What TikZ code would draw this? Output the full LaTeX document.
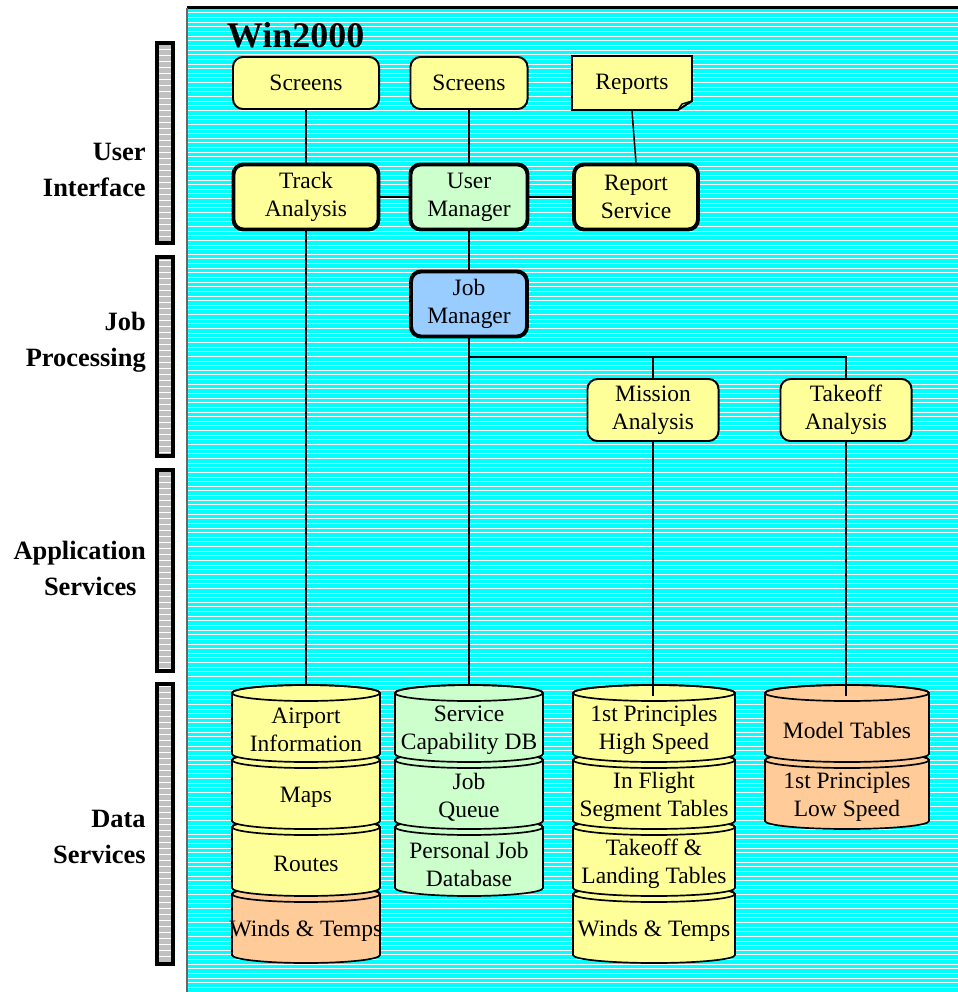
\documentclass[tikz,border=0pt]{standalone}
\usepackage{fontspec}
\setmainfont{Liberation Serif}

\definecolor{dbyellow}{HTML}{FFFF99}
\definecolor{dbgreen}{HTML}{CCFFCC}
\definecolor{dborange}{HTML}{FFCC99}
\definecolor{jmblue}{HTML}{99CCFF}
\definecolor{bgcyan}{HTML}{00FFFF}
\definecolor{bargray}{HTML}{C0C0C0}

\newcommand{\diagfont}{\fontsize{16.7}{19.9}\selectfont}
\newcommand{\lblfont}{\fontsize{18.8}{25.6}\selectfont\bfseries}
\newcommand{\titlefont}{\fontsize{25.6}{30}\selectfont\bfseries}

% one slice of a database stack: name, centre x, top y, width, fill, text
\newcommand{\dbseg}[6]{%
  \filldraw[dbline, fill=#5] (#2-#4/2,#3) -- (#2-#4/2,#3+61)
    arc[start angle=180, end angle=0, x radius=#4/2, y radius=8]
    -- (#2+#4/2,#3)
    arc[start angle=0, end angle=-180, x radius=#4/2, y radius=8] -- cycle;
  \draw[dbline] (#2,#3) ellipse[x radius=#4/2, y radius=8];
  \node[dbtext] (#1) at (#2,#3+37) {#6};
}

\begin{document}
\begin{tikzpicture}[x=0.025cm,y=-0.025cm,
    box/.style={draw, line width=1.4pt, rounded corners=0.25cm, fill=dbyellow,
      align=center, font=\diagfont, inner sep=0pt},
    svc/.style={box, line width=2.8pt},
    link/.style={line width=1.1pt},
    feed/.style={line width=2.1pt},
    dbline/.style={line width=1.2pt},
    dbtext/.style={align=center, font=\diagfont, inner sep=0pt},
    lbl/.style={align=right, anchor=east, font=\lblfont, inner sep=0pt}]
  \useasboundingbox (0,0) rectangle (958,992);

  % striped backdrop
  \fill[bgcyan] (187,8) rectangle (960,994);
  \foreach \k in {0,...,212}
    \draw[white, line width=0.025cm] (188,13+\k*4.64) -- (960,13+\k*4.64);
  \draw[line width=0.075cm] (187,8) -- (960,8);
  \draw[black!60, line width=0.05cm] (187,8) -- (187,994);

  % layer bars on the left
  \begin{scope}
    \clip (157,43) rectangle (173,243) (157,257) rectangle (173,456)
          (157,470) rectangle (173,671) (157,684) rectangle (173,964);
    \fill[bargray] (150,30) rectangle (180,980);
    \foreach \k in {0,...,160}
      \draw[white, line width=0.025cm] (150,44+\k*6) -- (180,44+\k*6);
  \end{scope}
  \foreach \ya/\yb in {43/243, 257/456, 470/671, 684/964}
    \draw[line width=0.1cm] (157,\ya) rectangle (173,\yb);

  \node[lbl] (ui) at (146,170) {User\\Interface};
  \node[lbl] (jp) at (146,342) {Job\\Processing};
  \node[lbl] (as) at (146,568) {Application\\Services\hspace*{0.23cm}};
  \node[lbl] (ds) at (146,837) {Data\\Services};

  \node[font=\titlefont, anchor=base west] (title) at (222,48) {Win2000};

  % user interface
  \node[box, minimum width=3.65cm, minimum height=1.3cm] (scr1) at (306,83) {Screens};
  \node[box, minimum width=2.925cm, minimum height=1.3cm] (scr2) at (469,83) {Screens};
  \filldraw[fill=dbyellow, line width=1.4pt] (572,56) -- (692,56) -- (692,101)
    -- (678,110) -- (572,110) -- cycle;
  \draw[line width=1pt] (678,110) -- (682,104) -- (692,101);
  \node[inner sep=0pt, font=\diagfont, minimum width=3cm, minimum height=1.35cm] (rep) at (632,84) {Reports};

  \node[svc, minimum width=3.625cm, minimum height=1.625cm] (track) at (306,197) {Track\\Analysis};
  \node[svc, fill=dbgreen, minimum width=2.925cm, minimum height=1.625cm] (uman) at (469,197) {User\\Manager};
  \node[svc, minimum width=3.1cm, minimum height=1.625cm] (rsvc) at (636,197) {Report\\Service};

  % job processing
  \node[svc, fill=jmblue, minimum width=2.9cm, minimum height=1.625cm] (jman) at (469,304) {Job\\Manager};
  \node[box, minimum width=3.275cm, minimum height=1.55cm] (miss) at (653,410) {Mission\\Analysis};
  \node[box, minimum width=3.275cm, minimum height=1.55cm] (take) at (846,410) {Takeoff\\Analysis};

  \draw[link] (scr1) -- (track);
  \draw[link] (scr2) -- (uman);
  \draw[link] (rep.south) -- (rsvc.north);
  \draw[link] (track) -- (uman);
  \draw[link] (uman) -- (rsvc);
  \draw[link] (uman) -- (jman);
  \coordinate (bus) at (469,357);
  \draw[link] (bus) -| (miss.north);
  \draw[link] (bus) -| (take.north);

  % data services, drawn bottom slice first
  \foreach \nm/\yt/\fc/\tx in {wt1/894/dborange/{Winds \& Temps},
      rts/827/dbyellow/Routes, maps/760/dbyellow/Maps,
      apt/693/dbyellow/{Airport\\Information}}
    {\dbseg{\nm}{306}{\yt}{148}{\fc}{\tx}}
  \foreach \nm/\yt/\tx in {pjd/827/{Personal Job\\Database},
      jq/760/{Job\\Queue}, scdb/693/{Service\\Capability DB}}
    {\dbseg{\nm}{469}{\yt}{148}{dbgreen}{\tx}}
  \foreach \nm/\yt/\tx in {wt2/894/{Winds \& Temps},
      tlt/827/{Takeoff \&\\Landing Tables}, ifs/760/{In Flight\\Segment Tables},
      hs/693/{1st Principles\\High Speed}}
    {\dbseg{\nm}{654}{\yt}{162}{dbyellow}{\tx}}
  \foreach \nm/\yt/\tx in {ls/760/{1st Principles\\Low Speed}, mt/693/{Model Tables}}
    {\dbseg{\nm}{847}{\yt}{164}{dborange}{\tx}}

  \coordinate (apttop) at (306,685);
  \coordinate (scdbtop) at (469,685);
  \coordinate (hstop) at (653,696);
  \coordinate (mttop) at (846,696);
  \draw[link] (track) -- (apttop);
  \draw[link] (jman) -- (scdbtop);
  \draw[feed] (miss) -- (hstop);
  \draw[feed] (take) -- (mttop);
\end{tikzpicture}
\end{document}
